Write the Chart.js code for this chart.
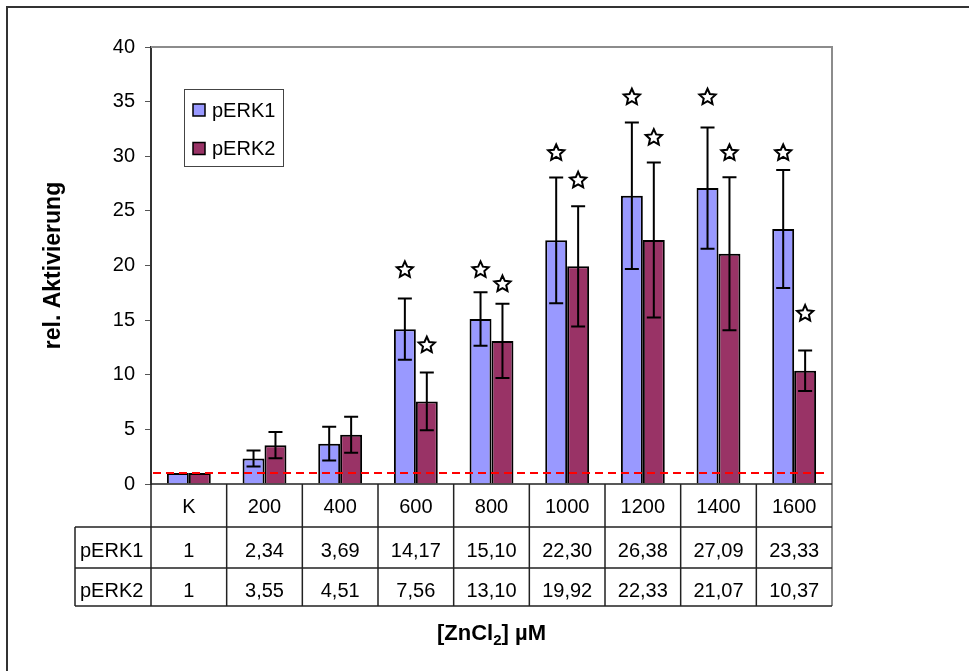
<!DOCTYPE html>
<html>
<head>
<meta charset="utf-8">
<script src="https://cdn.jsdelivr.net/npm/chart.js@4.4.0/dist/chart.umd.min.js"></script>
<style>
  html, body { margin: 0; padding: 0; background: #fff; }
  canvas { display: block; }
</style>
</head>
<body>
<canvas id="chart" width="969" height="671"></canvas>
<script>
// ZnCl2 concentrations (K = control)
const categories = ['K', '200', '400', '600', '800', '1000', '1200', '1400', '1600'];
const seriesNames = ['pERK1', 'pERK2'];
const pERK1 = [1, 2.34, 3.69, 14.17, 15.10, 22.30, 26.38, 27.09, 23.33];
const pERK2 = [1, 3.55, 4.51, 7.56, 13.10, 19.92, 22.33, 21.07, 10.37];
// standard deviations
const errERK1 = [0, 0.73, 1.55, 2.8, 2.45, 5.75, 6.7, 5.55, 5.4];
const errERK2 = [0, 1.2, 1.65, 2.65, 3.4, 5.5, 7.1, 7.0, 1.85];
// significance stars (height on the y scale, null = none)
const starERK1 = [null, null, null, 19.6, 19.6, 30.3, 35.4, 35.4, 30.3];
const starERK2 = [null, null, null, 12.7, 18.3, 27.8, 31.7, 30.3, 15.6];
const controlLevel = 1;
const yMin = 0, yMax = 40, yStep = 5;

const FONT = '"Liberation Sans", Arial, sans-serif';
const COLORS = ['#9999FF', '#993366'];

function fmt(v) {
  return Number.isInteger(v) ? String(v) : v.toFixed(2).replace('.', ',');
}

function drawStar(ctx, cx, cy, R, r) {
  ctx.beginPath();
  for (let k = 0; k < 10; k++) {
    const rad = k % 2 ? r : R;
    const ang = -Math.PI / 2 + k * Math.PI / 5;
    ctx.lineTo(cx + rad * Math.cos(ang), cy + rad * Math.sin(ang));
  }
  ctx.closePath();
  ctx.fillStyle = '#fff';
  ctx.fill();
  ctx.lineWidth = 2;
  ctx.strokeStyle = '#000';
  ctx.stroke();
}

const extras = {
  id: 'extras',
  afterDatasetsDraw(chart) {
    const { ctx, chartArea: a, scales: { y } } = chart;
    ctx.save();

    // error bars
    [errERK1, errERK2].forEach((errs, di) => {
      const meta = chart.getDatasetMeta(di);
      const vals = chart.data.datasets[di].data;
      meta.data.forEach((bar, i) => {
        if (!errs[i]) return;
        const top = y.getPixelForValue(vals[i] + errs[i]);
        const bot = y.getPixelForValue(vals[i] - errs[i]);
        ctx.strokeStyle = '#000';
        ctx.lineWidth = 2;
        ctx.beginPath();
        ctx.moveTo(bar.x, top); ctx.lineTo(bar.x, bot);
        ctx.moveTo(bar.x - 7, top); ctx.lineTo(bar.x + 7, top);
        ctx.moveTo(bar.x - 7, bot); ctx.lineTo(bar.x + 7, bot);
        ctx.stroke();
      });
    });

    // control level
    const yc = y.getPixelForValue(controlLevel);
    ctx.strokeStyle = '#FF0000';
    ctx.lineWidth = 2;
    ctx.setLineDash([8, 5]);
    ctx.beginPath();
    ctx.moveTo(a.left + 2, yc);
    ctx.lineTo(a.right - 4, yc);
    ctx.stroke();
    ctx.setLineDash([]);

    // stars
    [starERK1, starERK2].forEach((stars, di) => {
      const meta = chart.getDatasetMeta(di);
      stars.forEach((s, i) => {
        if (s == null) return;
        drawStar(ctx, meta.data[i].x, y.getPixelForValue(s), 8.5, 4);
      });
    });
    ctx.restore();
  },

  afterDraw(chart) {
    const { ctx, chartArea: a, scales: { x } } = chart;
    const n = categories.length;
    const cw = (a.right - a.left) / n;
    const rows = [a.bottom, a.bottom + 43, a.bottom + 84, a.bottom + 122];
    const headLeft = 75;
    ctx.save();

    // plot area border (top and right)
    ctx.strokeStyle = '#8c8c8c';
    ctx.lineWidth = 2;
    ctx.beginPath();
    ctx.moveTo(a.left, a.top); ctx.lineTo(a.right, a.top);
    ctx.lineTo(a.right, rows[3]);
    ctx.stroke();

    // data table grid
    ctx.strokeStyle = '#222';
    ctx.lineWidth = 1.5;
    ctx.beginPath();
    ctx.moveTo(a.left, rows[0]); ctx.lineTo(a.right, rows[0]);
    for (let r = 1; r < 4; r++) {
      ctx.moveTo(headLeft, rows[r]); ctx.lineTo(a.right, rows[r]);
    }
    ctx.moveTo(headLeft, rows[1]); ctx.lineTo(headLeft, rows[3]);
    for (let i = 0; i < n; i++) {
      const xl = a.left + i * cw;
      ctx.moveTo(xl, rows[0]); ctx.lineTo(xl, rows[3]);
    }
    ctx.stroke();

    // table text
    ctx.fillStyle = '#000';
    ctx.font = '20px ' + FONT;
    ctx.textAlign = 'center';
    ctx.textBaseline = 'alphabetic';
    const base = [rows[0] + 29, rows[1] + 30, rows[2] + 29];
    categories.forEach((c, i) => {
      const cx = x.getPixelForValue(i);
      ctx.fillText(c, cx, base[0]);
      ctx.fillText(fmt(pERK1[i]), cx, base[1]);
      ctx.fillText(fmt(pERK2[i]), cx, base[2]);
    });
    ctx.textAlign = 'left';
    ctx.fillText(seriesNames[0], headLeft + 5, base[1]);
    ctx.fillText(seriesNames[1], headLeft + 5, base[2]);

    // legend
    const lx = 184, ly = 89, lw = 99, lh = 77;
    ctx.strokeStyle = '#444';
    ctx.lineWidth = 1;
    ctx.fillStyle = '#fff';
    ctx.fillRect(lx, ly, lw, lh);
    ctx.strokeRect(lx + 0.5, ly + 0.5, lw, lh);
    chart.data.datasets.forEach((ds, i) => {
      const cy = ly + 21 + i * 38.5;
      ctx.fillStyle = ds.backgroundColor;
      ctx.fillRect(lx + 9, cy - 6, 12, 12);
      ctx.strokeStyle = '#000';
      ctx.lineWidth = 1.5;
      ctx.strokeRect(lx + 9, cy - 6, 12, 12);
      ctx.fillStyle = '#000';
      ctx.font = '20px ' + FONT;
      ctx.textAlign = 'left';
      ctx.textBaseline = 'middle';
      ctx.fillText(ds.label, lx + 28, cy + 1);
    });

    // y axis title
    ctx.save();
    ctx.translate(54, (a.top + a.bottom) / 2);
    ctx.rotate(-Math.PI / 2);
    ctx.font = 'bold 23px ' + FONT;
    ctx.textAlign = 'center';
    ctx.textBaseline = 'middle';
    ctx.fillStyle = '#000';
    ctx.fillText('rel. Aktivierung', 0, 0);
    ctx.restore();

    // x axis title with subscript
    const cxm = (a.left + a.right) / 2;
    const by = 640;
    const big = 'bold 22px ' + FONT, small = 'bold 15px ' + FONT;
    const parts = [['[ZnCl', big, 0], ['2', small, 5], ['] \u00B5M', big, 0]];
    let total = 0;
    parts.forEach(p => { ctx.font = p[1]; total += ctx.measureText(p[0]).width; });
    let px = cxm - total / 2;
    ctx.textAlign = 'left';
    ctx.textBaseline = 'alphabetic';
    ctx.fillStyle = '#000';
    parts.forEach(p => {
      ctx.font = p[1];
      ctx.fillText(p[0], px, by + p[2]);
      px += ctx.measureText(p[0]).width;
    });

    // outer frame
    ctx.strokeStyle = '#333';
    ctx.lineWidth = 2;
    ctx.strokeRect(7, 7, 1100, 1100);
    ctx.restore();
  }
};

new Chart(document.getElementById('chart'), {
  type: 'bar',
  data: {
    labels: categories,
    datasets: [
      { label: seriesNames[0], data: pERK1, backgroundColor: COLORS[0], borderColor: '#000', borderWidth: 2 },
      { label: seriesNames[1], data: pERK2, backgroundColor: COLORS[1], borderColor: '#000', borderWidth: 2 }
    ]
  },
  options: {
    responsive: false,
    animation: false,
    layout: { padding: { left: 0, top: 47, right: 137, bottom: 187 } },
    datasets: { bar: { categoryPercentage: 0.58, barPercentage: 1.0 } },
    plugins: { legend: { display: false }, tooltip: { enabled: false } },
    scales: {
      x: { display: false },
      y: {
        min: yMin, max: yMax,
        afterFit(scale) { scale.width = 151; },
        ticks: { stepSize: yStep, color: '#000', padding: 10, font: { family: FONT, size: 20 } },
        grid: { drawOnChartArea: false, drawTicks: true, tickLength: 6, color: '#555' },
        border: { display: true, color: '#333', width: 2 }
      }
    }
  },
  plugins: [extras]
});
</script>
</body>
</html>
